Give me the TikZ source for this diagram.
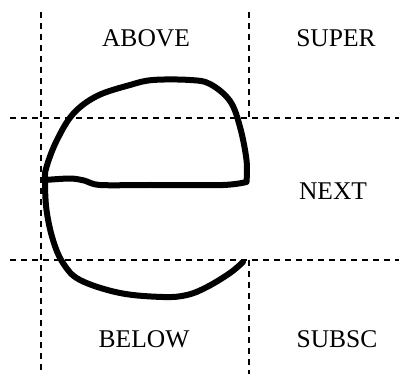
\documentclass[tikz,border=0pt]{standalone}
\usepackage{fontspec}
\setmainfont{Liberation Serif}
\tikzset{
    guide/.style={line width=1.4pt,dash pattern=on 6pt off 5pt},
    glyph/.style={line width=6pt,line cap=round,line join=round},
    zone/.style={anchor=base,font=\fontsize{25.5}{30}\selectfont}
}
\begin{document}
\begin{tikzpicture}[x=1pt,y=-1pt]
    \useasboundingbox (0,0) rectangle (399,374);

    % Grid of dashed guides
    \draw[guide] (41,12) -- (41,374);
    \draw[guide] (249,12) -- (249,118);
    \draw[guide] (249,260) -- (249,374);
    \foreach \y in {118,260} {
        \draw[guide] (10,\y) -- (399,\y);
    }

    % Hand drawn letter e
    \draw[glyph] plot[smooth,tension=0.5] coordinates {
        (45,180) (70,178.5) (84,180.5) (100,185) (150,185) (223,185) (246.5,182)}
        -- plot[smooth,tension=0.6] coordinates {
        (246.5,182) (246.5,160) (240,127) (230,101) (210,84) (190,80)
        (153,80) (130,85) (97,96) (73,114) (56.5,141) (46.5,167) (45,180)
        (46.5,210) (53,240) (63,263) (80,280) (120,293) (163,297)
        (187,295) (207,287) (230,273) (243,262)};

    % Labels
    \node[zone] (above) at (146,47) {ABOVE};
    \node[zone] (super) at (336,47) {SUPER};
    \node[zone] (next) at (333,200) {NEXT};
    \node[zone] (below) at (144,347) {BELOW};
    \node[zone] (subsc) at (337,347) {SUBSC};
\end{tikzpicture}
\end{document}
